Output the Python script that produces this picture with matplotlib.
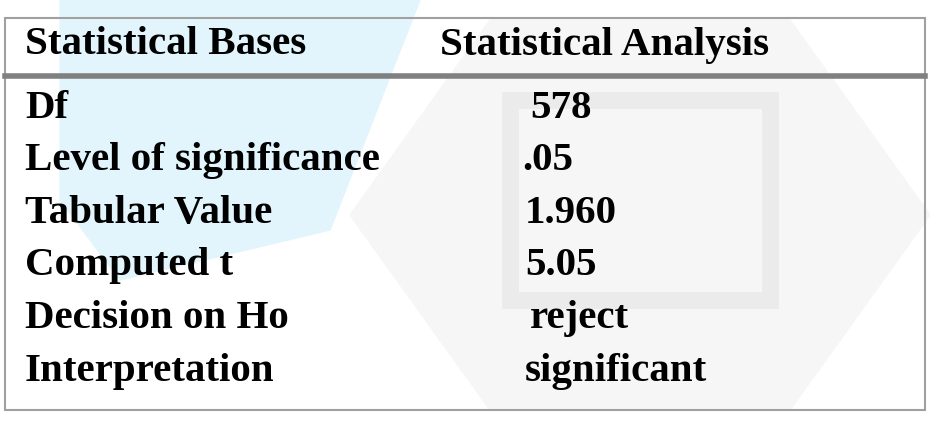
import matplotlib
matplotlib.use("Agg")
import matplotlib.pyplot as plt
from matplotlib.patches import Polygon, Rectangle

headers = ["Statistical Bases", "Statistical Analysis"]
bases = ["Df", "Level of significance", "Tabular Value", "Computed t", "Decision on Ho", "Interpretation"]
analysis = ["578", ".05", "1.960", "5.05", "reject", "significant"]
value_x = [530, 522, 525, 525, 530, 525]

W, H = 930, 422
fig = plt.figure(figsize=(W/100, H/100), dpi=100)
ax = fig.add_axes([0, 0, 1, 1])
ax.set_xlim(0, W); ax.set_ylim(H, 0); ax.axis("off")

# faint watermark shapes
ax.add_patch(Polygon([[60, 0], [420, 0], [330, 230], [120, 280], [60, 200]], closed=True,
                     color="#e3f5fc", zorder=0))
ax.add_patch(Polygon([[490, 20], [790, 20], [930, 215], [790, 410], [490, 410], [350, 215]], closed=True,
                     color="#f6f6f6", zorder=0))
ax.add_patch(Rectangle((510, 100), 260, 200, facecolor="none", edgecolor="#ebebeb", lw=12, zorder=0))

# border
ax.add_patch(Rectangle((5, 18), 920, 392, facecolor="none", edgecolor="#a0a0a0", lw=1.5, zorder=2))
ax.plot([5, 925], [76, 76], color="#808080", lw=4, zorder=2)

font = dict(family="Liberation Serif", fontweight="bold", fontsize=29.5, color="black", va="center", zorder=3)
ax.text(25, 45, headers[0], ha="left", **font)
ax.text(440, 45, headers[1], ha="left", **font)
for i, (b, a) in enumerate(zip(bases, analysis)):
    y = 108 + i * 52.6
    ax.text(25, y, b, ha="left", **font)
    ax.text(value_x[i], y, a, ha="left", **font)

fig.savefig("out.png", dpi=100)
